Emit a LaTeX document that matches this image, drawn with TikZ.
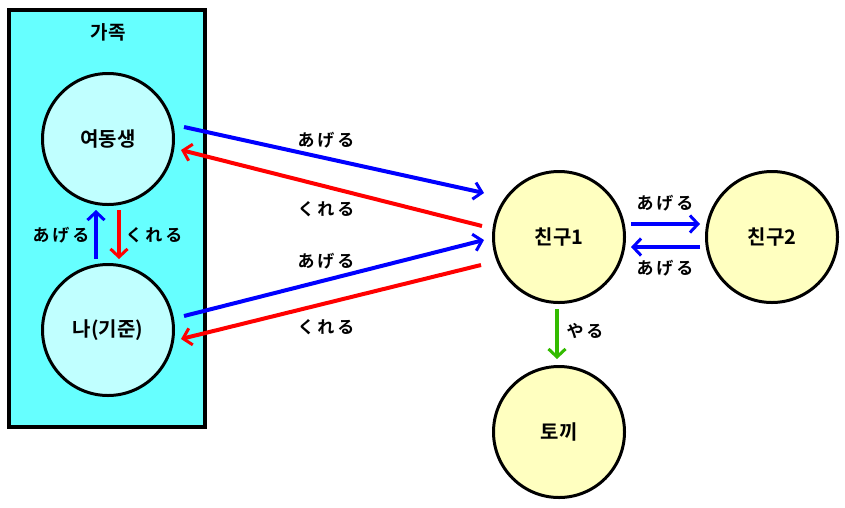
\documentclass[tikz,border=0pt]{standalone}
\usepackage{fontspec}
\setmainfont{Noto Sans CJK KR Bold}
\usetikzlibrary{arrows.meta}
\definecolor{boxcyan}{HTML}{66FFFF}
\definecolor{lightcyan}{HTML}{C0FFFF}
\definecolor{lightyellow}{HTML}{FFFFC0}
\definecolor{gblue}{HTML}{0000FF}
\definecolor{gred}{HTML}{FF0000}
\definecolor{ggreen}{HTML}{33BB00}
\tikzset{
  person/.style={circle,draw=black,line width=3pt,minimum size=131pt,inner sep=0pt,font=\fontsize{20pt}{24pt}\selectfont},
  fam/.style={person,fill=lightcyan},
  oth/.style={person,fill=lightyellow},
  conn/.style={line width=4pt,-{Straight Barb[length=8pt,width=17pt,line width=3pt]}},
  lbl/.style={font=\fontsize{17pt}{20pt}\selectfont,inner sep=0pt}
}
\newcommand{\ag}{あ\,げ\,る}
\newcommand{\ku}{く\,れ\,る}
\begin{document}
\begin{tikzpicture}[x=1pt,y=-1pt]
\useasboundingbox (0,0) rectangle (845,507);
\node[draw=black,line width=3.5pt,fill=boxcyan,minimum width=196pt,minimum height=417pt,inner sep=0pt] (family) at (107,218.5) {};
\node[font=\fontsize{19pt}{22pt}\selectfont] (famlbl) at (108,32) {가족};
\node[fam] (sis) at (108,139) {여동생};
\node[fam] (me) at (108,330) {나(기준)};
\node[oth] (f1) at (559,237) {친구1};
\node[oth] (f2) at (772,237) {친구2};
\node[oth] (rab) at (559,432) {토끼};
% sister <-> friend1
\draw[conn,gblue] ([shift={(76,-12)}]sis.center) -- ([shift={(-75,-44)}]f1.center);
\draw[conn,gred] ([shift={(-77,-11)}]f1.center) -- ([shift={(73,11)}]sis.center);
% me <-> friend1
\draw[conn,gblue] ([shift={(76,-14)}]me.center) -- ([shift={(-75,3)}]f1.center);
\draw[conn,gred] ([shift={(-78,28)}]f1.center) -- ([shift={(73,9)}]me.center);
% me <-> sister
\draw[conn,gblue] ([shift={(-12,-71)}]me.center) -- ([shift={(-12,71)}]sis.center);
\draw[conn,gred] ([shift={(11,71)}]sis.center) -- ([shift={(11,-71)}]me.center);
% friend1 <-> friend2
\draw[conn,gblue] ([shift={(72,-13)}]f1.center) -- ([shift={(-72,-13)}]f2.center);
\draw[conn,gblue] ([shift={(-72,10)}]f2.center) -- ([shift={(72,10)}]f1.center);
% friend1 -> rabbit
\draw[conn,ggreen] ([shift={(-2,72)}]f1.center) -- ([shift={(-2,-73)}]rab.center);
% labels
\node[lbl] (l1) at (326,140) {\ag};
\node[lbl] (l2) at (326,209) {\ku};
\node[lbl] (l3) at (326,261) {\ag};
\node[lbl] (l4) at (326,327) {\ku};
\node[lbl] (l5) at (61,235) {\ag};
\node[lbl] (l6) at (154,235) {\ku};
\node[lbl] (l7) at (665,203) {\ag};
\node[lbl] (l8) at (665,268) {\ag};
\node[lbl] (l9) at (585,331) {や\,る};
\end{tikzpicture}
\end{document}
